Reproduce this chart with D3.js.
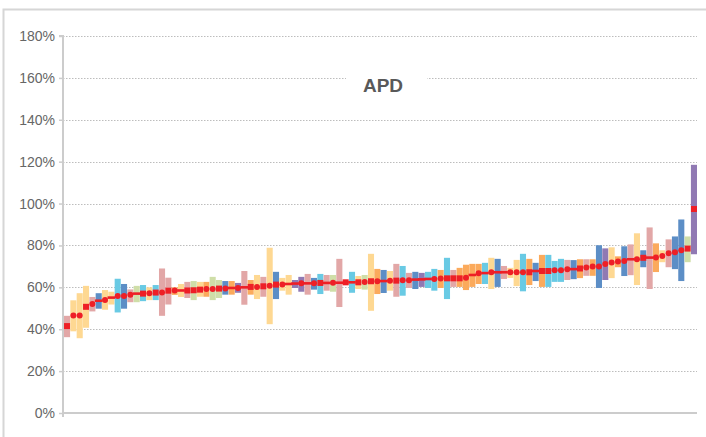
<!DOCTYPE html>
<html>
<head>
<meta charset="utf-8">
<script src="https://cdn.jsdelivr.net/npm/d3@7"></script>
<style>
  body { margin: 0; background: #fff; }
  svg { display: block; font-family: "Liberation Sans", Arial, sans-serif; }
</style>
</head>
<body>
<div id="chart"></div>
<script>
// range lows / highs per item (percent), sorted by the middle value
const lows = [36.2, 39.0, 35.7, 40.7, 48.5, 49.8, 49.3, 51.8, 48.0, 49.8,
  52.9, 52.9, 53.4, 53.9, 53.9, 46.4, 51.8, 56.4, 55.4, 54.9,
  53.9, 55.5, 55.5, 53.9, 54.9, 56.5, 56.5, 57.4, 51.7, 56.5,
  54.4, 55.5, 42.4, 54.4, 58.4, 56.5, 59.7, 57.9, 56.5, 58.9,
  56.8, 58.4, 57.9, 50.6, 61.1, 57.4, 59.2, 58.9, 48.8, 56.8,
  57.3, 58.4, 55.5, 56.0, 59.7, 59.2, 60.2, 59.7, 58.4, 59.7,
  54.4, 60.2, 60.2, 58.7, 60.2, 61.6, 61.6, 59.2, 60.2, 64.0,
  64.5, 60.6, 58.1, 61.1, 63.0, 60.2, 60.2, 62.6, 62.6, 63.5,
  63.9, 64.4, 65.5, 65.5, 59.7, 63.5, 64.4, 69.6, 65.4, 65.8,
  61.1, 69.6, 59.2, 67.3, 72.0, 69.6, 68.7, 63.0, 72.0, 75.8];
const highs = [46.4, 53.8, 57.2, 60.7, 55.4, 57.2, 58.7, 57.9, 64.1, 61.6,
  59.0, 60.7, 61.1, 60.0, 61.1, 69.0, 64.6, 60.0, 61.6, 62.6,
  63.0, 62.6, 62.6, 65.0, 63.5, 63.0, 63.0, 62.1, 67.8, 63.5,
  65.9, 65.0, 78.9, 67.4, 64.5, 65.9, 63.5, 65.0, 66.4, 64.5,
  66.4, 65.9, 65.9, 73.6, 63.0, 67.4, 65.4, 65.9, 76.0, 68.8,
  68.3, 67.8, 71.2, 70.2, 66.9, 67.4, 66.9, 67.4, 68.8, 68.3,
  74.1, 68.3, 69.3, 70.8, 71.2, 71.2, 71.7, 74.1, 73.6, 70.2,
  69.3, 73.1, 76.0, 73.6, 71.7, 75.5, 75.5, 72.6, 73.6, 73.1,
  73.0, 73.4, 73.4, 73.4, 80.1, 78.6, 79.1, 74.8, 79.6, 80.5,
  85.8, 77.7, 88.6, 81.0, 77.7, 82.9, 84.3, 92.4, 84.3, 118.5];
const mids = [41.5, 46.6, 46.6, 50.7, 52.0, 53.6, 53.9, 55.1, 55.9, 55.9,
  56.4, 57.0, 57.0, 57.2, 57.5, 57.5, 58.4, 58.5, 58.5, 58.5,
  58.6, 58.9, 59.2, 59.2, 59.4, 59.4, 59.7, 59.7, 60.0, 60.2,
  60.2, 60.5, 60.8, 61.3, 61.3, 61.6, 61.8, 61.9, 61.9, 61.9,
  62.1, 62.1, 62.2, 62.2, 62.4, 62.4, 62.4, 62.6, 62.9, 62.9,
  63.0, 63.2, 63.2, 63.4, 63.4, 63.7, 63.8, 64.0, 64.0, 64.2,
  64.3, 64.3, 64.3, 64.6, 65.9, 66.7, 66.8, 67.2, 67.2, 67.2,
  67.2, 67.2, 67.2, 67.2, 67.8, 67.8, 67.8, 68.2, 68.2, 68.6,
  68.7, 69.0, 69.5, 70.0, 70.0, 71.1, 71.8, 72.3, 72.6, 73.4,
  73.4, 74.1, 74.2, 74.2, 75.0, 76.3, 76.7, 77.7, 78.5, 97.4];
// group of each item (sets bar colour)
const groups = "PYYYPBYYCBPGCYCPPOYPGYOGGBOUPOYPYBYYUUPBCPGPYCYGYOBYPCPBUCCOCPOOOOCYBPYYCOBOCCCPBOPOBUYOBPYBPOYPBBGU".split("");
// marker kind of each item: c = circle, s = square, d = dash
const kinds = "sccscdcdcccdscscscdsssccscdcdscscscddcdcsdcdsdscscdcsccdddccssscdcdcddcccsdsscccdscccccccdcsdcccccssscd".split("");
const yTicks = [0, 20, 40, 60, 80, 100, 120, 140, 160, 180];
const title = "APD";

const width = 706, height = 437;
const plot = { left: 64, right: 697, top: 36, bottom: 413 };

const svg = d3.select("#chart").append("svg")
  .attr("width", width)
  .attr("height", height);

// outer frame
svg.append("path")
  .attr("d", `M3.5,${height} L3.5,9.5 L${width},9.5`)
  .attr("fill", "none")
  .attr("stroke", "#d6d6d6")
  .attr("stroke-width", 2);

const x = d3.scaleBand()
  .domain(d3.range(mids.length))
  .range([plot.left, plot.right])
  .paddingInner(0.04);

const y = d3.scaleLinear()
  .domain([0, 180])
  .range([plot.bottom, plot.top]);

const colour = d3.scaleOrdinal()
  .domain(["P", "Y", "B", "C", "G", "O", "U"])
  .range(["#e2a7a7", "#fed892", "#5c8ec6", "#69cae4", "#cfdea8", "#fbaa5c", "#9079b3"]);

// gridlines
svg.append("g")
  .selectAll("line")
  .data(yTicks.filter(t => t > 0))
  .join("line")
  .attr("x1", plot.left - 1)
  .attr("x2", plot.right)
  .attr("y1", d => Math.round(y(d)) + 0.5)
  .attr("y2", d => Math.round(y(d)) + 0.5)
  .attr("stroke", "#bdbdbd")
  .attr("stroke-dasharray", "1.5,1.5");

// title with white box behind it
svg.append("rect")
  .attr("x", 346)
  .attr("y", 70)
  .attr("width", 81)
  .attr("height", 28)
  .attr("fill", "#fff");
svg.append("text")
  .attr("x", 383)
  .attr("y", 92)
  .attr("text-anchor", "middle")
  .attr("font-size", 19)
  .attr("font-weight", "bold")
  .attr("fill", "#595959")
  .text(title);

// y axis
const yAxis = svg.append("g")
  .attr("transform", `translate(${plot.left - 1},0)`)
  .call(d3.axisLeft(y).tickValues(yTicks).tickFormat(d => d + "%").tickSize(4).tickPadding(4));
yAxis.select(".domain")
  .attr("d", `M-4,${plot.top}H0V${plot.bottom + 4}`)
  .attr("stroke", "#cccccc")
  .attr("stroke-width", 2);
yAxis.selectAll(".tick line").attr("stroke", "#cccccc").attr("stroke-width", 1.5);
yAxis.selectAll(".tick text")
  .attr("fill", "#666")
  .attr("font-size", 14)
  .attr("font-family", "\"Liberation Sans\", Arial, sans-serif");

// baseline
svg.append("line")
  .attr("x1", plot.left - 1)
  .attr("x2", plot.right)
  .attr("y1", y(0))
  .attr("y2", y(0))
  .attr("stroke", "#cccccc")
  .attr("stroke-width", 2);

// range bars
svg.append("g")
  .selectAll("rect")
  .data(mids.map((m, i) => i))
  .join("rect")
  .attr("x", i => x(i))
  .attr("width", x.bandwidth())
  .attr("y", i => y(highs[i]))
  .attr("height", i => y(lows[i]) - y(highs[i]))
  .attr("fill", i => colour(groups[i]));

// markers
const red = "#ee1f26";
const cx = i => x(i) + x.bandwidth() / 2;
const marks = svg.append("g");
mids.forEach((m, i) => {
  if (kinds[i] === "c") {
    marks.append("circle")
      .attr("cx", cx(i)).attr("cy", y(m)).attr("r", 3)
      .attr("fill", red);
  } else if (kinds[i] === "s") {
    marks.append("rect")
      .attr("x", cx(i) - 3).attr("y", y(m) - 3)
      .attr("width", 6).attr("height", 6)
      .attr("fill", red);
  } else {
    marks.append("rect")
      .attr("x", cx(i) - 3.8).attr("y", y(m) - 1.3)
      .attr("width", 7.6).attr("height", 2.6)
      .attr("fill", red);
  }
});
</script>
</body>
</html>
